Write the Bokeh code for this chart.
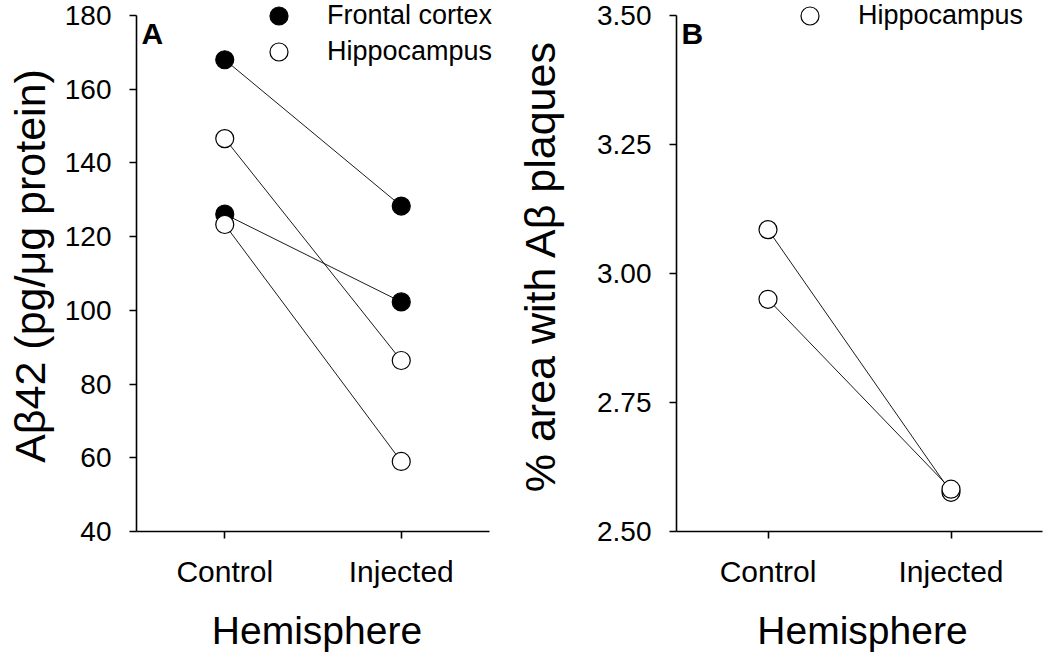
from bokeh.plotting import figure
from bokeh.models import (Range1d, FixedTicker, Legend, LegendItem,
                          Label, NumeralTickFormatter)
from bokeh.layouts import row
from bokeh.embed import file_html
from bokeh.resources import INLINE

# ---------------- data ----------------
hemispheres = ["Control", "Injected"]

# Panel A: Aβ42 (pg/μg protein), paired animals
frontal_pair1 = [168.0, 128.3]
frontal_pair2 = [126.1, 102.3]
hippo_a_pair1 = [146.6, 86.4]
hippo_a_pair2 = [123.3, 59.0]

# Panel B: % area with Aβ plaques (hippocampus)
hippo_b_pair1 = [3.085, 2.576]
hippo_b_pair2 = [2.950, 2.582]

a_ticks = [40, 60, 80, 100, 120, 140, 160, 180]
b_ticks = [2.50, 2.75, 3.00, 3.25, 3.50]

# category -> position on a 0..4 axis (Control=1, Injected=3)
x_pos = [2 * i + 1 for i in range(len(hemispheres))]
x_span = 2 * len(hemispheres)

FONT = "Liberation Sans"
FRAME_H = 531          # frame from canvas top to the x-axis
MB_BOT = 124
H = FRAME_H + MB_BOT
AXIS_TOP_PX = 15       # y-axis rule stops this far below the frame top


def style(p, ylabel, ylab_standoff):
    p.outline_line_color = None
    p.xgrid.visible = False
    p.ygrid.visible = False
    p.background_fill_color = "white"
    p.border_fill_color = "white"
    for ax in (p.xaxis[0], p.yaxis[0]):
        ax.axis_line_width = 1.6
        ax.axis_line_color = "black"
        ax.major_tick_line_width = 1.6
        ax.major_tick_line_color = "black"
        ax.major_tick_in = 0
        ax.major_tick_out = 7
        ax.minor_tick_in = 0
        ax.minor_tick_out = 0
        ax.major_label_text_font = FONT
        ax.major_label_text_color = "black"
        ax.axis_label_text_font = FONT
        ax.axis_label_text_font_style = "normal"
        ax.axis_label_text_color = "black"
    xa = p.xaxis[0]
    xa.ticker = FixedTicker(ticks=x_pos, minor_ticks=[])
    xa.major_label_overrides = {xp: h for xp, h in zip(x_pos, hemispheres)}
    xa.bounds = (0, x_span)
    xa.major_label_text_font_size = "30px"
    xa.major_label_standoff = 16
    xa.axis_label = "Hemisphere"
    xa.axis_label_text_font_size = "39px"
    xa.axis_label_standoff = 18
    ya = p.yaxis[0]
    ya.major_label_text_font_size = "28px"
    ya.major_label_standoff = 18
    ya.axis_label = ylabel
    ya.axis_label_text_font_size = "43px"
    ya.axis_label_standoff = ylab_standoff


def pair_line(p, ys, fill):
    p.line(x=x_pos, y=ys, line_color="black", line_width=0.9)
    return p.scatter(x=x_pos, y=ys, size=18, marker="circle",
                     fill_color=fill, line_color="black", line_width=1.2)


def legend_entry(p, label, renderer, cx, cy):
    # cx, cy: glyph centre in px from the frame's left / top edge
    lg = Legend(items=[LegendItem(label=label, renderers=[renderer])],
                location=(cx - 22, FRAME_H - cy - 22), glyph_width=45, glyph_height=45,
                spacing=0, padding=0, margin=0, label_standoff=26,
                label_text_font=FONT, label_text_font_size="27px",
                label_text_color="black",
                border_line_color=None, background_fill_alpha=0)
    p.add_layout(lg)


def panel_letter(p, letter):
    p.add_layout(Label(x=5, y=FRAME_H - 33, x_units="screen", y_units="screen",
                       text=letter, text_font=FONT, text_font_style="bold",
                       text_font_size="30px", text_baseline="middle",
                       text_align="left", text_color="black"))


# ---------------- Panel A ----------------
A_LEFT, A_W = 136, 497
a_unit = (489 - 136) / x_span
a_lo, a_hi = a_ticks[0], a_ticks[-1]
a_top = a_hi + (a_hi - a_lo) * AXIS_TOP_PX / (FRAME_H - AXIS_TOP_PX)
pa = figure(width=A_W, height=H,
            x_range=Range1d(0, (A_W - A_LEFT) / a_unit),
            y_range=Range1d(a_lo, a_top), output_backend="svg", toolbar_location=None,
            min_border_left=A_LEFT, min_border_right=0,
            min_border_top=0, min_border_bottom=MB_BOT)
style(pa, "Aβ42 (pg/μg protein)", 8)
pa.yaxis[0].ticker = FixedTicker(ticks=a_ticks, minor_ticks=[])
pa.yaxis[0].bounds = (a_lo, a_hi)

rf1 = pair_line(pa, frontal_pair1, "black")
pair_line(pa, frontal_pair2, "black")
rh1 = pair_line(pa, hippo_a_pair1, "white")
pair_line(pa, hippo_a_pair2, "white")

legend_entry(pa, "Frontal cortex", rf1, 142, 16)
legend_entry(pa, "Hippocampus", rh1, 142, 52)
panel_letter(pa, "A")

# ---------------- Panel B ----------------
B_LEFT, B_W = 676 - A_W, 1048 - A_W
b_unit = (1042 - 676) / x_span
b_lo, b_hi = b_ticks[0], b_ticks[-1]
b_top = b_hi + (b_hi - b_lo) * AXIS_TOP_PX / (FRAME_H - AXIS_TOP_PX)
pb = figure(width=B_W, height=H,
            x_range=Range1d(0, (B_W - B_LEFT) / b_unit),
            y_range=Range1d(b_lo, b_top), output_backend="svg", toolbar_location=None,
            min_border_left=B_LEFT, min_border_right=0,
            min_border_top=0, min_border_bottom=MB_BOT)
style(pb, "% area with Aβ plaques", 30)
pb.yaxis[0].ticker = FixedTicker(ticks=b_ticks, minor_ticks=[])
pb.yaxis[0].bounds = (b_lo, b_hi)
pb.yaxis[0].formatter = NumeralTickFormatter(format="0.00")

rb1 = pair_line(pb, hippo_b_pair1, "white")
pair_line(pb, hippo_b_pair2, "white")

legend_entry(pb, "Hippocampus", rb1, 133, 16)
panel_letter(pb, "B")

layout = row(pa, pb)
open("out.html", "w").write(file_html(layout, INLINE))
